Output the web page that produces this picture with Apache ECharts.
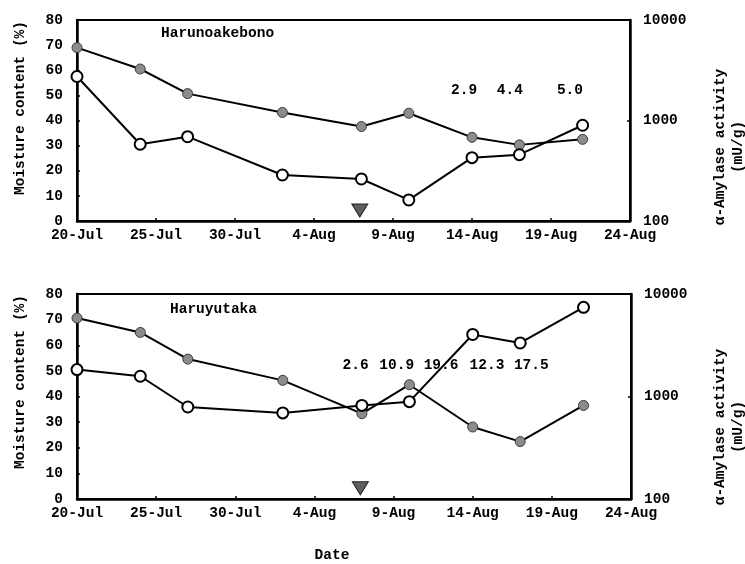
<!DOCTYPE html>
<html>
<head>
<meta charset="utf-8">
<script src="https://cdn.jsdelivr.net/npm/echarts@6/dist/echarts.min.js"></script>
<style>
html,body{margin:0;padding:0;background:#fff;}
#chart{width:745px;height:564px;}
</style>
</head>
<body>
<div id="chart"></div>
<script>
// Days after 20-Jul of each sampling date
const sampleDays = [0, 4, 7, 13, 18, 21, 25, 28, 32];
const xTickLabels = ['20-Jul','25-Jul','30-Jul','4-Aug','9-Aug','14-Aug','19-Aug','24-Aug'];

// Harunoakebono
const moistureTop = [69, 60.5, 50.7, 43.2, 37.6, 42.9, 33.3, 30.3, 32.5];
const amylaseTop  = [2740, 580, 690, 287, 262, 162, 427, 457, 897];
const notesTop     = ['2.9', '4.4', '5.0'];
const notesTopDays = [24.5, 27.4, 31.2];
const notesTopLevel = [52, 52, 52];

// Haruyutaka
const moistureBot = [70.6, 65.0, 54.6, 46.3, 33.3, 44.6, 28.1, 22.4, 36.5];
const amylaseBot  = [1830, 1576, 790, 692, 818, 891, 4030, 3330, 7410];
const notesBot     = ['2.6', '10.9', '19.6', '12.3', '17.5'];
const notesBotDays = [17.6, 20.2, 23.0, 25.9, 28.7];
const notesBotLevel = [52, 52, 52, 52, 52];

// Down-triangle marker
const markerDays = [17.9];
const markerLevel = [4.2];

const FONT = 'Liberation Mono';
const FS = 14.5;
const FW = 'bold';
const TXT = '#000';

function zip(xs, ys) { return xs.map((x, i) => [x, ys[i]]); }

const grids = [
  {left: 77, top: 20, right: 115, height: 201},
  {left: 77, top: 294, right: 114, height: 205}
];

function xAxisFor(i) {
  return {
    type: 'value', gridIndex: i, min: 0, max: 35, interval: 5,
    axisLine: {show: true, lineStyle: {color: '#000', width: 2.5}},
    axisTick: {show: true, inside: true, length: 3, lineStyle: {color: '#000', width: 1.5}},
    splitLine: {show: false},
    axisLabel: {
      margin: 7, color: TXT, fontFamily: FONT, fontSize: FS, fontWeight: FW,
      formatter: v => xTickLabels[Math.round(v / 5)] || ''
    }
  };
}
function yLeftFor(i) {
  return {
    type: 'value', gridIndex: i, min: 0, max: 80, interval: 10,
    axisLine: {show: true, lineStyle: {color: '#000', width: 2.5}},
    axisTick: {show: true, inside: true, length: 3, lineStyle: {color: '#000', width: 1.5}},
    splitLine: {show: false},
    axisLabel: {margin: 14, color: TXT, fontFamily: FONT, fontSize: FS, fontWeight: FW}
  };
}
function yRightFor(i) {
  return {
    type: 'log', logBase: 10, gridIndex: i, min: 100, max: 10000, position: 'right',
    axisLine: {show: true, onZero: false, lineStyle: {color: '#000', width: 2.5}},
    axisTick: {show: true, inside: true, length: 3, lineStyle: {color: '#000', width: 1.5}},
    minorTick: {show: false},
    splitLine: {show: false},
    axisLabel: {margin: 13, color: TXT, fontFamily: FONT, fontSize: FS, fontWeight: FW,
      formatter: v => String(Math.round(v))}
  };
}

function moistureSeries(i, data) {
  return {
    type: 'line', xAxisIndex: i, yAxisIndex: i * 2, data: zip(sampleDays, data),
    symbol: 'circle', symbolSize: 10,
    lineStyle: {color: '#000', width: 2},
    itemStyle: {color: '#8c8c8c', borderColor: '#3a3a3a', borderWidth: 1},
    z: 3, animation: false
  };
}
function amylaseSeries(i, data) {
  return {
    type: 'line', xAxisIndex: i, yAxisIndex: i * 2 + 1, data: zip(sampleDays, data),
    symbol: 'circle', symbolSize: 11,
    lineStyle: {color: '#000', width: 2},
    itemStyle: {color: '#fff', borderColor: '#000', borderWidth: 2},
    z: 4, animation: false
  };
}
function noteSeries(i, days, levels, texts) {
  return {
    type: 'scatter', xAxisIndex: i, yAxisIndex: i * 2,
    data: days.map((d, k) => ({value: [d, levels[k]], name: texts[k]})),
    symbolSize: 0, silent: true, z: 6, animation: false,
    itemStyle: {opacity: 1},
    label: {show: true, position: 'inside', formatter: p => p.name,
      color: TXT, fontFamily: FONT, fontSize: FS, fontWeight: FW, textBorderWidth: 0}
  };
}
function markerSeries(i) {
  return {
    type: 'scatter', xAxisIndex: i, yAxisIndex: i * 2,
    data: zip(markerDays, markerLevel),
    symbol: 'triangle', symbolRotate: 180, symbolSize: [16, 13],
    itemStyle: {color: '#5e5e5e', borderColor: '#222', borderWidth: 1, opacity: 1},
    z: 5, animation: false
  };
}

const FONTSTR = FW + ' ' + FS + 'px "' + FONT + '"';
function vText(x, y, text) {
  return {
    type: 'text', x: x, y: y, rotation: Math.PI / 2,
    style: {text: text, fill: TXT, font: FONTSTR,
      textAlign: 'center', textVerticalAlign: 'middle', lineHeight: 18}
  };
}
function hText(x, y, text, align) {
  return {
    type: 'text', x: x, y: y,
    style: {text: text, fill: TXT, font: FONTSTR,
      textAlign: align || 'left', textVerticalAlign: 'middle'}
  };
}

const option = {
  backgroundColor: '#fff',
  animation: false,
  grid: grids.map(g => Object.assign({show: true, borderColor: '#000', borderWidth: 2}, g)),
  xAxis: [xAxisFor(0), xAxisFor(1)],
  yAxis: [yLeftFor(0), yRightFor(0), yLeftFor(1), yRightFor(1)],
  series: [
    moistureSeries(0, moistureTop), amylaseSeries(0, amylaseTop),
    noteSeries(0, notesTopDays, notesTopLevel, notesTop), markerSeries(0),
    moistureSeries(1, moistureBot), amylaseSeries(1, amylaseBot),
    noteSeries(1, notesBotDays, notesBotLevel, notesBot), markerSeries(1)
  ],
  graphic: [
    hText(161, 33, 'Harunoakebono'),
    hText(170, 309, 'Haruyutaka'),
    vText(20, 108, 'Moisture content (%)'),
    vText(20, 382, 'Moisture content (%)'),
    vText(729, 147, 'α-Amylase activity\n(mU/g)'),
    vText(729, 427, 'α-Amylase activity\n(mU/g)'),
    hText(332, 555, 'Date', 'center')
  ]
};

const chart = echarts.init(document.getElementById('chart'), null, {renderer: 'canvas'});
chart.setOption(option);
</script>
</body>
</html>
